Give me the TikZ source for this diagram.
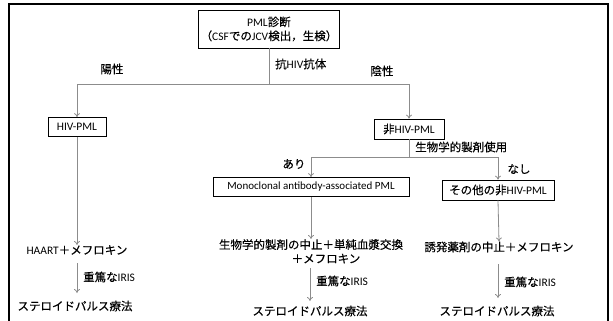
\documentclass[tikz,border=0pt]{standalone}
\usepackage{fontspec}
\setmainfont{Carlito}
\newfontfamily\jp[AutoFakeBold=0.3]{Noto Sans CJK JP}
\newcommand{\J}[1]{{\jp\bfseries\fontsize{11.5}{14}\selectfont #1}}
\usetikzlibrary{arrows.meta}
\begin{document}
\begin{tikzpicture}[x=1pt,y=-1pt,
  box/.style={draw=black,line width=0.7pt,inner sep=2pt,align=center,font=\fontsize{11.5}{14}\selectfont},
  txt/.style={inner sep=0pt,align=center,font=\fontsize{11.5}{14}\selectfont},
  conn/.style={draw=black!45,line width=0.8pt},
  arr/.style={conn,-{To[length=4pt,width=6pt]}}]
\useasboundingbox (0,0) rectangle (613,321);
\fill[white] (0,0) rectangle (613,321);
\draw[line width=1.3pt] (9,4) rectangle (608,330);
% nodes
\node[box,minimum width=138pt,minimum height=38pt] (top) at (269,29) {PML\J{診断}\\\J{（}CSF\J{での}JCV\J{検出，生検）}};
\node[box,minimum width=58pt,minimum height=19pt] (hiv) at (77,127) {HIV-PML};
\node[box,minimum width=70pt,minimum height=20pt] (nonhiv) at (409,129) {\J{非}HIV-PML};
\node[box,minimum width=196pt,minimum height=19pt,font=\fontsize{11}{14}\selectfont] (mono) at (311,187) {Monoclonal antibody-associated PML};
\node[box,minimum width=112pt,minimum height=20pt] (other) at (498,190) {\J{その他の非}HIV-PML};
\node[txt] (haart) at (77,250) {HAART\J{＋メフロキン}};
\node[txt,anchor=north] (stop) at (311,239) {\J{生物学的製剤の中止＋単純血漿交換}\\\hspace*{30pt}\J{＋メフロキン}};
\node[txt] (induce) at (499,247) {\J{誘発薬剤の中止＋メフロキン}};
\node[txt] (st1) at (75,306) {\J{ステロイドパルス療法}};
\node[txt] (st2) at (310,311) {\J{ステロイドパルス療法}};
\node[txt] (st3) at (497,311) {\J{ステロイドパルス療法}};
% coordinates
\coordinate (j1) at (269,84);
\coordinate (j1l) at (77,84);
\coordinate (j1r) at (409,84);
\coordinate (j2) at (409,157);
\coordinate (j2l) at (311,157);
\coordinate (j2r) at (498,157);
\coordinate (a1s) at (77,263);
\coordinate (a1e) at (77,293);
\coordinate (a2s) at (310,268);
\coordinate (a2e) at (310,301);
\coordinate (a3s) at (498,264);
\coordinate (a3e) at (498,298);
% connectors
\draw[conn] (top.south) -- (j1);
\draw[arr] (j1) -- (j1l) -- (hiv.north);
\draw[arr] (j1) -- (j1r) -- (nonhiv.north);
\draw[conn] (nonhiv.south) -- (j2);
\draw[arr] (j2) -- (j2l) -- (mono.north);
\draw[arr] (j2) -- (j2r) -- (other.north);
\draw[arr] (hiv.south) -- (haart.north);
\draw[arr] (mono.south) -- (stop.north);
\draw[arr] (other.south) -- (induce.north);
\draw[arr] (a1s) -- (a1e);
\draw[arr] (a2s) -- (a2e);
\draw[arr] (a3s) -- (a3e);
% labels
\node[txt] (lpos) at (112,69) {\J{陽性}};
\node[txt,anchor=west] (lab) at (275,64) {\J{抗}HIV\J{抗体}};
\node[txt] (lneg) at (382,71) {\J{陰性}};
\node[txt,anchor=west] (lbio) at (415,147) {\J{生物学的製剤使用}};
\node[txt] (lyes) at (294,164) {\J{あり}};
\node[txt] (lno) at (519,169) {\J{なし}};
\node[txt,anchor=west] (ir1) at (83,277) {\J{重篤な}IRIS};
\node[txt,anchor=west] (ir2) at (316,281) {\J{重篤な}IRIS};
\node[txt,anchor=west] (ir3) at (504,282) {\J{重篤な}IRIS};
\end{tikzpicture}
\end{document}
